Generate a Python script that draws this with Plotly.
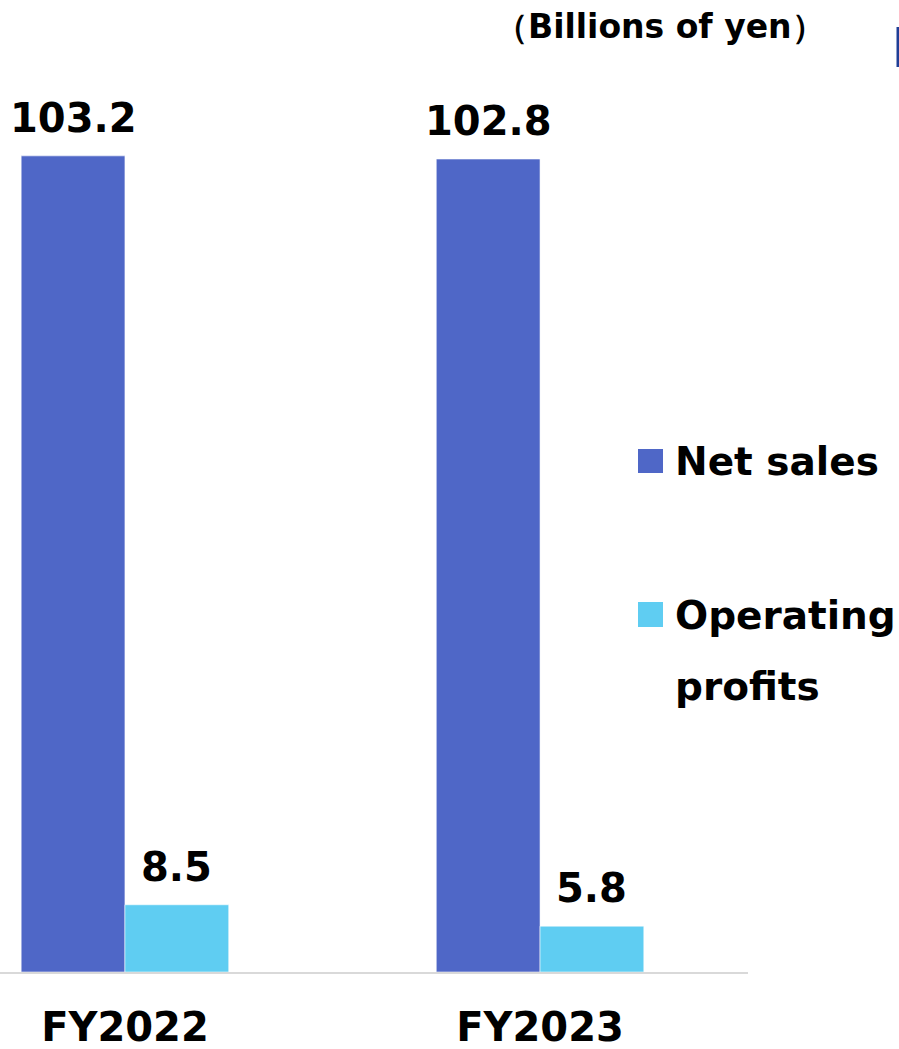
import plotly.graph_objects as go

# ---- data ----
categories = ["FY2022", "FY2023"]
net_sales = [103.2, 102.8]
operating_profits = [8.5, 5.8]
series_names = ["Net sales", "Operating profits"]
unit_label = "（Billions of yen）"

# ---- layout constants ----
W, H = 899, 1049
L, R, T, B = 0, 151, 23, 77
plot_w = W - L - R
plot_h = H - T - B

BLUE = "#4F67C7"
CYAN = "#5FCDF2"
FONT = "DejaVu Sans"
bargap = 0.5
bar_w = (1 - bargap) / 2
xs = list(range(len(categories)))


def px_x(p):
    return (p - L) / plot_w


def px_y(p):
    return (H - B - p) / plot_h


fig = go.Figure()
fig.add_bar(x=xs, y=net_sales, name=series_names[0], showlegend=False,
            marker=dict(color=BLUE, line=dict(width=0.8, color="rgba(255,255,255,0.7)")))
fig.add_bar(x=xs, y=operating_profits, name=series_names[1], showlegend=False,
            marker=dict(color=CYAN, line=dict(width=0.8, color="rgba(255,255,255,0.7)")))

annotations = []
for series, sign in ((net_sales, -1), (operating_profits, 1)):
    for i, v in enumerate(series):
        annotations.append(dict(
            x=xs[i] + sign * bar_w / 2, y=v, xref="x", yref="y",
            text=f"{v:.1f}", showarrow=False, yanchor="bottom", xanchor="center",
            yshift=13, font=dict(family=FONT, size=40, color="black", weight="bold")))

# unit label
annotations.append(dict(
    x=px_x(660), y=px_y(27), xref="paper", yref="paper", text=unit_label,
    showarrow=False, xanchor="center", yanchor="middle",
    font=dict(family=FONT, size=33, color="black", weight="bold")))

# legend (manual)
legend_font = dict(family=FONT, size=39, color="black", weight="bold")
annotations.append(dict(x=px_x(673), y=px_y(461), xref="paper", yref="paper",
                        text=series_names[0], showarrow=False, xanchor="left",
                        yanchor="middle", font=legend_font))
op_words = series_names[1].split(" ")
annotations.append(dict(x=px_x(673), y=px_y(616), xref="paper", yref="paper",
                        text=op_words[0], showarrow=False, xanchor="left",
                        yanchor="middle", font=legend_font))
annotations.append(dict(x=px_x(673), y=px_y(686), xref="paper", yref="paper",
                        text=op_words[1], showarrow=False, xanchor="left",
                        yanchor="middle", font=legend_font))

shapes = [
    dict(type="rect", xref="paper", yref="paper", x0=px_x(638), x1=px_x(663),
         y0=px_y(473), y1=px_y(449), fillcolor=BLUE, line=dict(width=0)),
    dict(type="rect", xref="paper", yref="paper", x0=px_x(638), x1=px_x(663),
         y0=px_y(627), y1=px_y(602), fillcolor=CYAN, line=dict(width=0)),
    dict(type="line", xref="paper", yref="paper", x0=px_x(898), x1=px_x(898),
         y0=px_y(67), y1=px_y(27), line=dict(color="#1F3E96", width=3)),
]

fig.update_layout(
    width=W, height=H,
    margin=dict(l=L, r=R, t=T, b=B, pad=0),
    paper_bgcolor="white", plot_bgcolor="white",
    barmode="group", bargap=bargap, bargroupgap=0,
    annotations=annotations, shapes=shapes,
    showlegend=False,
)
fig.update_xaxes(
    range=[-0.301, 1.501], tickvals=xs, ticktext=categories,
    showline=True, linecolor="#D9D9D9", linewidth=2, showgrid=False, zeroline=False,
    ticks="outside", ticklen=19, tickcolor="rgba(0,0,0,0)",
    tickfont=dict(family=FONT, size=40, color="black", weight="bold"),
    automargin=False,
)
fig.update_yaxes(range=[0, 120], visible=False, showgrid=False, zeroline=False)

fig.write_html("out.html")
